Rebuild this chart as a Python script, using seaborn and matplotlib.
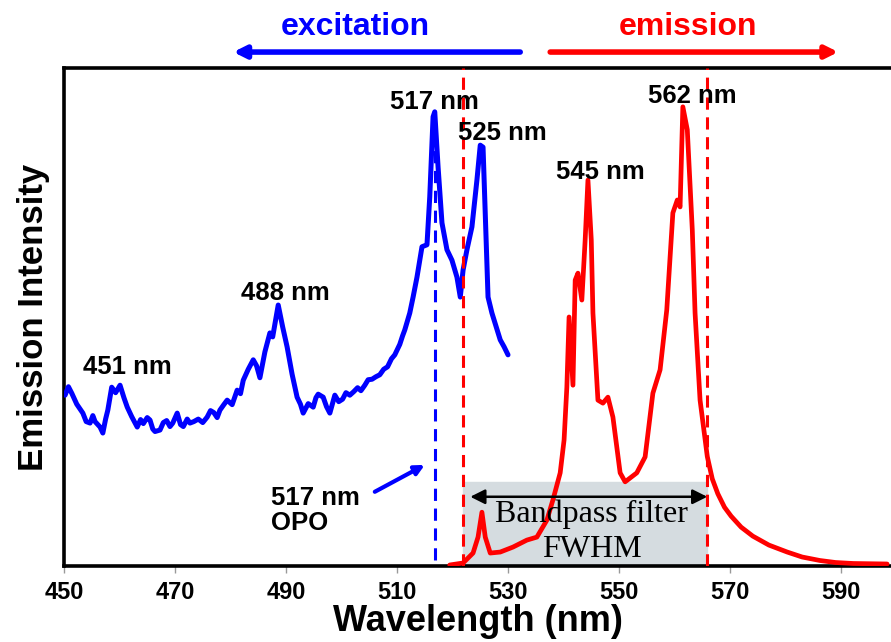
import matplotlib.pyplot as plt
import seaborn as sns
from matplotlib.patches import Rectangle

# excitation spectrum (blue)
exc_nm = [450.2, 450.8, 451.4, 452.3, 453.4, 454.0, 454.7, 455.2, 455.6, 456.5, 457.0, 457.5,
          457.9, 458.6, 459.3, 460.1, 460.8, 461.4, 462.2, 463.2, 463.8, 464.3, 465.0, 465.5,
          466.0, 466.4, 467.3, 467.9, 468.5, 469.1, 469.6, 470.4, 471.0, 471.5, 472.2, 472.7,
          473.4, 474.2, 475.0, 475.8, 476.4, 477.0, 477.6, 478.1, 478.8, 479.4, 480.3, 481.2,
          481.8, 482.3, 483.2, 484.1, 484.7, 485.3, 486.2, 487.1, 487.6, 488.6, 489.4, 490.2,
          491.1, 492.0, 492.6, 493.1, 494.0, 494.9, 495.4, 495.8, 496.7, 497.3, 497.9, 498.8,
          499.5, 500.2, 500.8, 501.5, 502.2, 502.9, 503.5, 504.2, 504.8, 505.5, 506.2, 506.9,
          507.6, 508.3, 509.0, 509.6, 510.5, 511.0, 511.4, 512.3, 512.9, 513.6, 514.5, 515.4,
          515.9, 516.5, 516.8, 517.4, 518.1, 519.0, 519.9, 520.8, 521.4, 521.9, 522.6, 523.5,
          524.4, 525.0, 525.5, 526.4, 527.1, 528.6, 529.3, 530.0]
exc_val = [34.3, 36.0, 34.7, 32.5, 30.7, 29.0, 28.7, 30.2, 29.0, 27.9, 26.7, 29.5,
           31.3, 35.9, 34.8, 36.3, 33.8, 31.9, 30.0, 27.9, 29.4, 28.6, 29.8, 29.3,
           27.5, 27.0, 27.3, 28.8, 29.2, 28.0, 28.7, 30.7, 28.4, 28.0, 29.5, 28.7,
           29.0, 29.5, 28.8, 29.9, 31.2, 30.8, 29.8, 31.3, 32.4, 33.3, 32.4, 35.3,
           34.6, 37.3, 39.5, 41.4, 40.2, 37.8, 43.0, 46.8, 46.0, 52.4, 48.0, 44.0,
           38.5, 33.9, 32.5, 30.7, 32.6, 31.9, 33.8, 34.5, 33.9, 32.0, 30.7, 34.3,
           33.0, 33.5, 34.8, 34.3, 35.0, 35.8, 35.2, 36.3, 37.4, 37.5, 38.0, 38.4,
           39.5, 40.0, 41.6, 42.4, 44.5, 46.2, 47.4, 50.8, 54.0, 58.0, 64.1, 64.5,
           74.1, 90.2, 91.2, 80.1, 68.9, 63.5, 61.4, 58.0, 54.0, 59.4, 63.5, 68.1,
           77.5, 84.5, 84.1, 54.0, 50.8, 45.4, 44.0, 42.4]

# emission spectrum (red)
emi_nm = [519.5, 521.9, 523.7, 524.6, 525.3, 525.9, 526.8, 528.6, 530.9, 533.4, 535.2, 537.0,
          538.1, 539.4, 540.1, 540.6, 541.0, 541.7, 542.1, 542.6, 543.3, 543.9, 544.4, 545.0,
          545.3, 546.2, 547.1, 548.0, 548.9, 550.2, 551.1, 553.2, 554.7, 556.1, 557.4, 558.6,
          559.7, 560.5, 561.0, 561.5, 562.3, 563.2, 563.7, 564.6, 565.9, 566.8, 567.8, 569.0,
          570.2, 572.0, 574.1, 577.0, 580.3, 583.0, 586.2, 589.0, 592.2, 598.3]
emi_val = [0.2, 0.6, 2.6, 5.8, 10.8, 5.8, 2.6, 2.8, 3.8, 5.2, 5.8, 9.2,
           13.3, 18.7, 25.3, 35.9, 50.0, 36.3, 57.4, 58.8, 53.4, 65.5, 77.5, 65.5,
           50.8, 33.3, 32.7, 33.9, 29.9, 18.7, 16.9, 18.7, 21.9, 34.7, 39.4, 51.4,
           70.9, 73.5, 72.1, 92.2, 87.6, 67.5, 50.8, 33.3, 22.0, 17.5, 14.5, 11.8,
           10.0, 7.8, 6.0, 4.2, 2.8, 1.8, 1.1, 0.7, 0.5, 0.4]

peak_labels = ["451 nm", "488 nm", "517 nm", "525 nm", "545 nm", "562 nm"]
peak_x = [461.5, 489.8, 516.7, 528.9, 546.6, 563.2]
peak_y = [40.0, 54.8, 93.2, 86.9, 79.1, 94.4]

opo_nm = 516.9
filter_lo, filter_hi = 521.9, 565.9
xticks = [450, 470, 490, 510, 530, 550, 570, 590]

sns.set_style("white")
plt.rcParams['font.family'] = ['Liberation Sans', 'DejaVu Sans']
plt.rcParams['text.color'] = 'black'

fig = plt.figure(figsize=(8.91, 6.42), dpi=100)
ax = fig.add_axes([0.0718, 0.1184, 0.9282, 0.7757])

# filter band
ax.add_patch(Rectangle((filter_lo, 0), filter_hi - filter_lo, 16.9, color="#d5dce0", zorder=1))

ax.vlines(opo_nm, 1.2, 88, colors="blue", linestyles=(0, (4, 2.5)), lw=2.2, zorder=2)

sns.lineplot(x=exc_nm, y=exc_val, sort=False, estimator=None, color="#0000ff", lw=3.6, ax=ax, zorder=3)
sns.lineplot(x=emi_nm, y=emi_val, sort=False, estimator=None, color="#ff0000", lw=3.4, ax=ax, zorder=3)

for xv in (filter_lo, filter_hi):
    ax.axvline(xv, color="#ff0000", ls=(0, (4, 2.5)), lw=2.2, zorder=4)

ax.annotate("", xy=(filter_lo + 1.3, 13.9), xytext=(filter_hi, 13.9),
            arrowprops=dict(arrowstyle="<|-|>", color="black", lw=1.8, mutation_scale=22,
                            shrinkA=0, shrinkB=0), zorder=5)
ax.text(545.1, 10.4, "Bandpass filter", family="Liberation Serif", fontsize=23,
        ha="center", va="center", zorder=5)
ax.text(545.1, 3.4, "FWHM", family="Liberation Serif", fontsize=23,
        ha="center", va="center", zorder=5)

for lab, px, py in zip(peak_labels, peak_x, peak_y):
    ax.text(px, py, lab, fontsize=18.5, fontweight="bold", ha="center", va="center", zorder=6)

ax.text(487.3, 11.2, "517 nm\nOPO", fontsize=18.5, fontweight="bold", ha="left", va="center",
        linespacing=1.05)
ax.annotate("", xy=(515.0, 20.3), xytext=(506.0, 14.9),
            arrowprops=dict(arrowstyle="-|>", color="blue", lw=3, mutation_scale=14,
                            shrinkA=0, shrinkB=0))

# excitation / emission headers above the frame
ax.annotate("", xy=(480.5, 1.032), xytext=(532.2, 1.032), xycoords=("data", "axes fraction"),
            arrowprops=dict(arrowstyle="-|>", color="#0000ff", lw=4, mutation_scale=18,
                            shrinkA=0, shrinkB=0), annotation_clip=False)
ax.annotate("", xy=(589.5, 1.032), xytext=(537.6, 1.032), xycoords=("data", "axes fraction"),
            arrowprops=dict(arrowstyle="-|>", color="#ff0000", lw=4, mutation_scale=18,
                            shrinkA=0, shrinkB=0), annotation_clip=False)
ax.text(502.4, 1.082, "excitation", transform=ax.get_xaxis_transform(), color="#0000ff",
        fontsize=23, fontweight="bold", ha="center", va="center")
ax.text(562.4, 1.082, "emission", transform=ax.get_xaxis_transform(), color="#ff0000",
        fontsize=23, fontweight="bold", ha="center", va="center")

ax.set_xlim(450, 599)
ax.set_ylim(0, 100)
ax.set_xticks(xticks)
ax.set_xticklabels([str(t) for t in xticks], fontsize=17, fontweight="bold", color="black")
ax.set_yticks([])
ax.tick_params(axis="x", bottom=True, length=5, width=1, color="#999999", pad=6)
for side in ("left", "top", "bottom"):
    ax.spines[side].set_color("black")
    ax.spines[side].set_linewidth(2.6)
ax.spines["right"].set_visible(False)

ax.set_xlabel("Wavelength (nm)", fontsize=26, fontweight="bold", labelpad=0, color="black")
ax.set_ylabel("Emission Intensity", fontsize=25, fontweight="bold", labelpad=10, color="black")

fig.savefig("out.png", dpi=100)
